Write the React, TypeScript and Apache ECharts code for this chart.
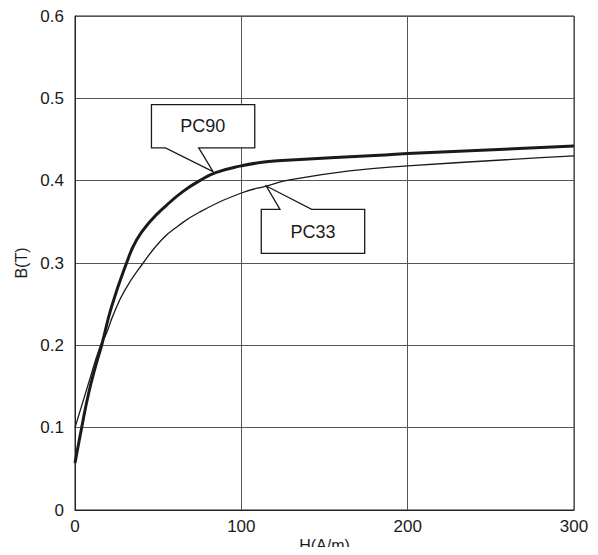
import React, { useEffect, useRef } from "react";
import * as echarts from "echarts";

const xTicks = [0, 100, 200, 300];
const yTicks = [0, 0.1, 0.2, 0.3, 0.4, 0.5, 0.6];

const pc90H = [0, 4, 8, 12, 16, 22, 31, 37, 45, 55, 65, 75, 85, 100, 115, 130, 183, 200, 300];
const pc90B = [0.057, 0.1, 0.14, 0.172, 0.2, 0.247, 0.3, 0.328, 0.35, 0.37, 0.387, 0.4, 0.41, 0.418, 0.423, 0.425, 0.431, 0.433, 0.442];

const pc33H = [0, 8, 15, 19, 23, 30, 41, 52, 62, 75, 100, 115, 129, 165, 200, 300];
const pc33B = [0.1, 0.153, 0.198, 0.215, 0.237, 0.267, 0.3, 0.328, 0.345, 0.362, 0.385, 0.3935, 0.401, 0.412, 0.418, 0.43];

const seriesNames = ["PC90", "PC33"];
const xName = "H(A/m)";
const labelAnchors = [
  [83, 0.411],
  [115, 0.3935],
];

const FONT = "'Liberation Sans', Arial, Helvetica, sans-serif";
const INK = "#1a1a1a";

export default function App() {
  const ref = useRef<HTMLDivElement>(null);
  useEffect(() => {
    if (!ref.current) return;
    const chart = echarts.init(ref.current, undefined, { renderer: "svg" });
    const pc90 = pc90H.map((h, i) => [h, pc90B[i]]);
    const pc33 = pc33H.map((h, i) => [h, pc33B[i]]);
    chart.setOption({
      animation: false,
      backgroundColor: "#fff",
      grid: {
        left: 75,
        top: 16,
        right: 24,
        bottom: 45,
        outerBoundsMode: "none",
        containLabel: false,
        show: true,
        borderColor: "#222",
        borderWidth: 1,
        backgroundColor: "transparent",
      },
      xAxis: {
        type: "value",
        min: xTicks[0],
        max: xTicks[xTicks.length - 1],
        interval: 100,
        axisLine: { show: true, lineStyle: { color: "#222", width: 1 } },
        axisTick: { show: false },
        axisLabel: { fontFamily: FONT, fontSize: 17, color: INK, margin: 8 },
        splitLine: { show: true, lineStyle: { color: "#555", width: 1 } },
      },
      yAxis: {
        type: "value",
        min: yTicks[0],
        max: yTicks[yTicks.length - 1],
        interval: 0.1,
        name: "B(T)",
        nameLocation: "middle",
        nameGap: 46,
        nameTextStyle: { fontFamily: FONT, fontSize: 16, color: INK },
        axisLine: { show: true, lineStyle: { color: "#222", width: 1 } },
        axisTick: { show: false },
        axisLabel: {
          fontFamily: FONT,
          fontSize: 17,
          color: INK,
          margin: 11,
          formatter: (v: number) => (v === 0 ? "0" : v.toFixed(1)),
        },
        splitLine: { show: true, lineStyle: { color: "#555", width: 1 } },
      },
      series: [
        {
          name: seriesNames[0],
          type: "line",
          data: pc90,
          smooth: 0.5,
          showSymbol: false,
          lineStyle: { color: INK, width: 3 },
          z: 3,
        },
        {
          name: seriesNames[1],
          type: "line",
          data: pc33,
          smooth: 0.5,
          showSymbol: false,
          lineStyle: { color: INK, width: 1.3 },
          z: 2,
        },
      ],
    });

    const t90 = chart.convertToPixel({ gridIndex: 0 }, labelAnchors[0]) as number[];
    const t33 = chart.convertToPixel({ gridIndex: 0 }, labelAnchors[1]) as number[];
    const xMid = chart.convertToPixel({ gridIndex: 0 }, [(xTicks[0] + xTicks[xTicks.length - 1]) / 2, yTicks[0]]) as number[];
    const boxStyle = { fill: "#fff", stroke: INK, lineWidth: 1.3 };
    chart.setOption({
      graphic: [
        {
          type: "text",
          z: 50,
          x: xMid[0],
          y: xMid[1] + 27,
          style: {
            text: xName,
            fontFamily: FONT,
            fontSize: 16,
            fill: INK,
            align: "center",
            verticalAlign: "top",
          },
        },
        {
          type: "polygon",
          z: 100,
          shape: {
            points: [
              [t90[0] - 61.6, t90[1] - 67],
              [t90[0] + 41.7, t90[1] - 67],
              [t90[0] + 41.7, t90[1] - 23.7],
              [t90[0] - 14.3, t90[1] - 23.7],
              [t90[0], t90[1]],
              [t90[0] - 47.6, t90[1] - 23.7],
              [t90[0] - 61.6, t90[1] - 23.7],
            ],
          },
          style: boxStyle,
        },
        {
          type: "text",
          z: 101,
          x: t90[0] - 10.3,
          y: t90[1] - 45.5,
          style: {
            text: seriesNames[0],
            fontFamily: FONT,
            fontSize: 18,
            fill: INK,
            align: "center",
            verticalAlign: "middle",
          },
        },
        {
          type: "polygon",
          z: 100,
          shape: {
            points: [
              [t33[0] - 5, t33[1] + 23.3],
              [t33[0] + 13.7, t33[1] + 23.3],
              [t33[0], t33[1]],
              [t33[0] + 45.4, t33[1] + 23.3],
              [t33[0] + 98.4, t33[1] + 23.3],
              [t33[0] + 98.4, t33[1] + 67.3],
              [t33[0] - 5, t33[1] + 67.3],
            ],
          },
          style: boxStyle,
        },
        {
          type: "text",
          z: 101,
          x: t33[0] + 46.7,
          y: t33[1] + 45.5,
          style: {
            text: seriesNames[1],
            fontFamily: FONT,
            fontSize: 18,
            fill: INK,
            align: "center",
            verticalAlign: "middle",
          },
        },
      ],
    });
    return () => chart.dispose();
  }, []);
  return <div ref={ref} style={{ width: 598, height: 555, margin: -8 }} />;
}
